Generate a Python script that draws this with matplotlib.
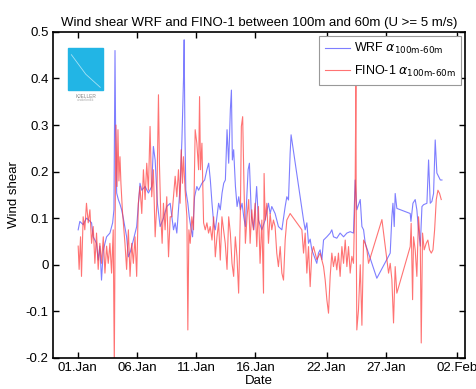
import matplotlib
matplotlib.use('Agg')
import matplotlib.pyplot as plt
import matplotlib.dates as mdates
from matplotlib.patches import Rectangle
from datetime import datetime, timedelta

# days after 01.Jan
wrf_day = [0.03, 0.17, 0.45, 0.73, 0.88, 1.16, 1.3, 1.58, 1.72, 1.86, 2.0, 2.15, 2.29, 2.43, 2.71,
           2.94, 3.05, 3.14, 3.19, 3.28, 3.42, 3.56, 3.7, 3.84, 4.12, 4.27, 4.46, 4.69, 4.97, 5.25,
           5.4, 5.68, 5.96, 6.24, 6.38, 6.53, 6.72, 6.95, 7.23, 7.51, 7.8, 7.94, 8.08, 8.22, 8.36,
           8.5, 8.64, 8.79, 8.93, 8.98, 9.04, 9.12, 9.29, 9.41, 9.58, 9.69, 9.86, 10.05, 10.2, 10.48,
           10.71, 10.9, 11.05, 11.19, 11.33, 11.47, 11.61, 11.75, 11.89, 12.03, 12.18, 12.32, 12.46,
           12.6, 12.74, 12.88, 12.97, 13.05, 13.16, 13.31, 13.45, 13.59, 13.73, 13.87, 14.01, 14.15,
           14.38, 14.49, 14.66, 14.86, 15.1, 15.25, 15.54, 15.82, 16.1, 16.24, 16.38, 16.66, 16.94,
           17.23, 17.51, 17.65, 17.79, 17.93, 18.01, 19.06, 19.2, 19.34, 19.48, 19.62, 19.76, 20.18,
           20.32, 20.46, 20.61, 20.75, 21.03, 21.31, 21.45, 21.59, 21.87, 22.15, 22.44, 22.72, 23.0,
           23.28, 23.42, 23.56, 23.85, 23.99, 24.13, 24.27, 25.25, 26.38, 26.52, 26.61, 26.72, 26.8,
           26.94, 28.07, 28.13, 28.3, 28.49, 28.63, 28.77, 28.92, 29.06, 29.2, 29.48, 29.62, 29.76,
           29.9, 30.04, 30.18, 30.32, 30.46, 30.61, 30.75]
wrf_val = [0.075, 0.093, 0.086, 0.10, 0.097, 0.09, 0.06, 0.046, 0.01, 0.04, -0.033, 0.03, 0.046, 0.06, 0.068,
           0.09, 0.118, 0.46, 0.29, 0.154, 0.14, 0.13, 0.118, 0.10, 0.06, 0.017, 0.03, 0.053, 0.082, 0.175,
           0.16, 0.168, 0.154, 0.168, 0.254, 0.225, 0.132, 0.082, 0.10, 0.125, 0.132, 0.103, 0.075, 0.09, 0.068,
           0.118, 0.168, 0.268, 0.404, 0.483, 0.29, 0.16, 0.132, 0.103, 0.075, 0.06, 0.146, 0.168, 0.16, 0.175,
           0.182, 0.204, 0.218, 0.182, 0.132, 0.09, 0.075, 0.103, 0.132, 0.118, 0.154, 0.175, 0.182,
           0.29, 0.218, 0.333, 0.375, 0.225, 0.247, 0.168, 0.125, 0.146, 0.118, 0.132, 0.103, 0.082,
           0.204, 0.218, 0.103, 0.075, 0.168, 0.096, 0.075, 0.096, 0.132, 0.11, 0.125, 0.11, 0.082,
           0.075, 0.125, 0.146, 0.139, 0.24, 0.279, 0.096, 0.075, 0.09, 0.046, 0.055, 0.032, 0.003,
           0.025, 0.032, 0.011, 0.053, 0.06, 0.068, 0.075, 0.06, 0.057, 0.068, 0.06, 0.068, 0.071,
           0.068, 0.182, 0.118, 0.14, 0.082, 0.075, 0.046, -0.029, 0.025, 0.103, 0.132, 0.082, 0.153,
           0.121, 0.11, 0.093, 0.132, 0.14, 0.118, 0.075, 0.04, 0.125, 0.129, 0.132, 0.225, 0.132,
           0.136, 0.153, 0.268, 0.197, 0.19, 0.182, 0.182]

fino_day = [0.03, 0.11, 0.23, 0.31, 0.45, 0.59, 0.73, 0.88, 1.02, 1.16, 1.3, 1.44, 1.58, 1.72, 1.86,
            2.0, 2.15, 2.29, 2.43, 2.57, 2.71, 2.85, 2.99, 3.08, 3.16, 3.22, 3.31, 3.39, 3.47, 3.56,
            3.64, 3.76, 3.98, 4.12, 4.27, 4.41, 4.55, 4.69, 4.83, 4.97, 5.11, 5.25, 5.4, 5.54, 5.68,
            5.82, 5.96, 6.1, 6.24, 6.38, 6.53, 6.67, 6.81, 6.89, 7.01, 7.12, 7.23, 7.37, 7.51, 7.66,
            7.8, 7.94, 8.08, 8.22, 8.36, 8.5, 8.64, 8.73, 8.84, 8.92, 9.06, 9.21, 9.29, 9.38, 9.49,
            9.63, 9.77, 9.91, 10.05, 10.2, 10.28, 10.36, 10.48, 10.62, 10.76, 10.9, 11.04, 11.18, 11.33,
            11.47, 11.61, 11.75, 11.89, 12.03, 12.17, 12.31, 12.45, 12.6, 12.74, 12.88, 13.02, 13.16,
            13.3, 13.44, 13.58, 13.73, 13.81, 13.92, 14.04, 14.15, 14.29, 14.43, 14.55, 14.69, 14.83,
            14.97, 15.11, 15.25, 15.39, 15.54, 15.68, 15.73, 15.82, 15.96, 16.1, 16.24, 16.38, 16.52,
            16.66, 16.8, 16.94, 17.09, 17.23, 17.37, 17.51, 17.65, 17.93, 18.92, 19.06, 19.2, 19.34,
            19.48, 19.62, 19.76, 19.9, 20.18, 20.46, 20.75, 20.89, 21.03, 21.17, 21.31, 21.45, 21.59,
            21.73, 21.87, 22.01, 22.15, 22.3, 22.44, 22.58, 22.72, 22.86, 23.0, 23.14, 23.28, 23.42,
            23.48, 23.52, 23.56, 23.7, 23.85, 23.99, 24.13, 24.27, 24.41, 24.55, 25.68, 26.24, 26.38,
            26.52, 26.66, 26.8, 26.94, 28.07, 28.15, 28.27, 28.35, 28.49, 28.63, 28.77, 28.92, 29.0,
            29.11, 29.25, 29.42, 29.56, 29.7, 29.85, 29.99, 30.13, 30.27, 30.41, 30.55, 30.69]
fino_val = [0.04, -0.01, 0.06, -0.025, 0.103, 0.075, 0.132, 0.09, 0.118, 0.046, 0.082, 0.003, 0.068, -0.01, 0.046,
            0.003, 0.06, -0.018, 0.04, 0.003, 0.046, -0.018, 0.075, -0.218, 0.118, 0.30, 0.168, 0.29, 0.18, 0.232,
            0.175, 0.118, 0.046, -0.01, 0.075, -0.025, 0.046, 0.003, 0.06, -0.025, 0.132, 0.168, 0.11, 0.204, 0.14,
            0.218, 0.16, 0.297, 0.146, 0.204, 0.06, 0.132, 0.365, 0.218, 0.103, 0.046, 0.132, 0.075, 0.146, 0.017,
            0.103, 0.103, 0.146, 0.19, 0.146, 0.204, 0.132, 0.247, 0.175, 0.232, 0.16, 0.103, -0.14, 0.075, 0.046,
            0.103, 0.075, 0.29, 0.261, 0.204, 0.361, 0.204, 0.261, 0.09, 0.075, 0.09, 0.068, 0.082, 0.053,
            0.103, 0.017, 0.06, 0.09, 0.01, 0.103, 0.075, 0.046, -0.01, 0.103, 0.068, 0.003, -0.025,
            0.06, 0.017, -0.061, 0.118, 0.297, 0.318, 0.16, 0.046, 0.103, 0.14, 0.046, 0.118, 0.075,
            0.132, 0.039, 0.125, 0.003, 0.096, -0.061, 0.196, 0.096, 0.132, 0.046, 0.11, 0.075, 0.096,
            0.082, 0.025, -0.004, 0.039, -0.018, -0.033, 0.053, 0.096, 0.11, 0.075, 0.025, 0.068, -0.018,
            0.039, -0.047, 0.025, 0.039, 0.011, 0.025, -0.004, -0.033, -0.075, -0.104, -0.025, 0.025, -0.004,
            0.018, -0.011, 0.025, -0.025, 0.039, 0.003, 0.053, -0.004, 0.039, -0.018, 0.018, 0.003, 0.168,
            0.39, 0.03, -0.14, -0.097, 0.0, -0.13, 0.053, 0.046, 0.032, 0.003, 0.097, -0.018, 0.003,
            -0.032, -0.125, -0.004, -0.061, 0.039, 0.089, -0.075, 0.06, 0.032, -0.025, 0.103, 0.046, -0.168,
            0.068, 0.032, 0.046, 0.053, 0.032, 0.025, 0.032, 0.075, 0.14, 0.16, 0.153, 0.14]

tick_days = [0, 5, 10, 15, 21, 26, 32]

start = datetime(2005, 1, 1)
wrf_t = [start + timedelta(days=d) for d in wrf_day]
fino_t = [start + timedelta(days=d) for d in fino_day]

plt.rcParams['font.family'] = ['Liberation Sans', 'DejaVu Sans']

fig = plt.figure(figsize=(4.76, 3.89), dpi=100)
ax = fig.add_axes([0.111, 0.080, 0.866, 0.838])

ax.plot(wrf_t, wrf_val, color='#4848ff', lw=0.8, alpha=0.7, label='WRF $\\alpha_{\\mathrm{100m\u201060m}}$')
ax.plot(fino_t, fino_val, color='#ff3838', lw=0.8, alpha=0.7, label='FINO-1 $\\alpha_{\\mathrm{100m\u201060m}}$')

ax.set_xlim(start + timedelta(days=-2.11), start + timedelta(days=32.7))
ax.set_ylim(-0.2, 0.5)
ax.set_xticks([start + timedelta(days=d) for d in tick_days])
ax.xaxis.set_major_formatter(mdates.DateFormatter('%d.%b'))
ax.set_yticks([-0.2, -0.1, 0, 0.1, 0.2, 0.3, 0.4, 0.5])
ax.set_yticklabels(['-0.2', '-0.1', '0', '0.1', '0.2', '0.3', '0.4', '0.5'])
ax.tick_params(direction='in', top=True, right=True, length=4, width=1, labelsize=9.5, pad=3)
for s in ax.spines.values():
    s.set_linewidth(1.2)

ax.set_title('Wind shear WRF and FINO-1 between 100m and 60m (U >= 5 m/s)', fontsize=9.5, pad=4)
ax.set_xlabel('Date', fontsize=9.5, labelpad=1)
ax.set_ylabel('Wind shear', fontsize=9.5, labelpad=4)

# logo
ax.add_patch(Rectangle((0.037, 0.822), 0.085, 0.129, transform=ax.transAxes, color='#22b5e5', zorder=3))
ax.plot([0.045, 0.08, 0.115], [0.93, 0.87, 0.83], transform=ax.transAxes, color='white', lw=0.6, alpha=0.6, zorder=4)
ax.text(0.0795, 0.803, 'KJELLER', transform=ax.transAxes, fontsize=3.5, color='#888888', ha='center', va='center')
ax.text(0.0795, 0.79, 'vindteknikk', transform=ax.transAxes, fontsize=2.5, color='#aaaaaa', ha='center', va='center')

leg = ax.legend(loc='upper right', fontsize=9, fancybox=False, framealpha=1, edgecolor='#999999',
                handlelength=2.0, handletextpad=0.3, borderaxespad=0.3, labelspacing=0.6, borderpad=0.45)
leg.get_frame().set_linewidth(0.8)

fig.savefig('out.png', dpi=100)
